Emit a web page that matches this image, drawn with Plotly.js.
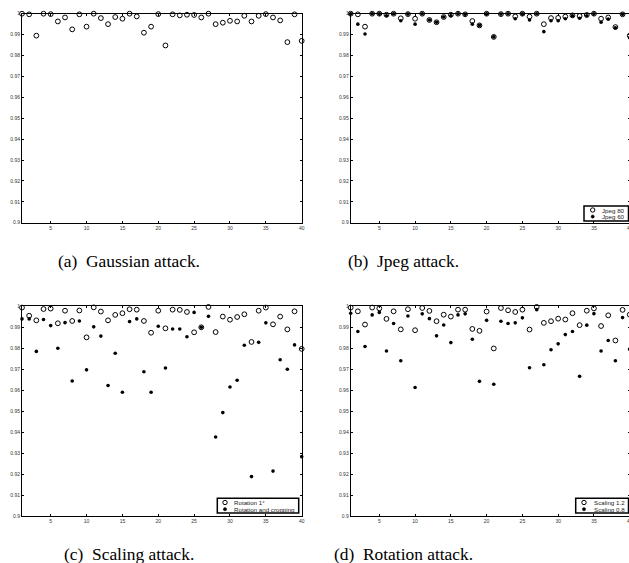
<!DOCTYPE html>
<html>
<head>
<meta charset="utf-8">
<script src="https://cdn.plot.ly/plotly-3.0.1.min.js"></script>
<style>
html,body{margin:0;padding:0;overflow:hidden;background:#fff;}
#chart{width:632px;height:563px;}
</style>
</head>
<body>
<div id="chart"></div>
<script>
// ---- data ----
var idx = [];
for (var i = 1; i <= 40; i++) idx.push(i);

var gaussian = [1.0,0.9997,0.9895,1.0,0.9998,0.9963,0.9982,0.9925,0.9997,0.9938,1.0,0.9979,0.995,0.9984,0.9976,1.0,0.9987,0.9909,0.9938,0.9998,0.9848,0.9997,0.9992,0.9995,0.9994,0.9982,1.0,0.995,0.9957,0.9966,0.9963,0.999,0.9963,0.999,0.9998,0.9982,0.9968,0.9864,0.9997,0.987];

var jpeg80 = [1,0.9997,0.9938,1,1,0.9995,1,0.9978,0.9998,0.9976,1,0.997,0.9959,0.9984,0.9995,1,0.9997,0.9965,0.9944,1,0.9889,0.9998,1,0.9987,1,0.9986,1,0.995,0.9979,0.998,0.9986,0.9992,0.9989,0.9994,1,0.9976,0.9982,0.9936,0.9997,0.9895];
var jpeg60 = [1,0.995,0.9903,1,1,0.999,1,0.9966,0.9998,0.995,1,0.997,0.9959,0.9984,0.999,1,0.9997,0.995,0.9944,1,0.9889,0.9998,1,0.9976,1,0.997,1,0.9914,0.9966,0.9966,0.9976,0.999,0.9978,0.999,1,0.9959,0.9974,0.9933,0.9997,0.9885];

var rotation1 = [0.9994,0.9955,0.9933,0.9987,0.9989,0.9919,0.9979,0.993,0.998,0.9852,0.9995,0.9975,0.9933,0.9959,0.9967,0.9986,0.9984,0.993,0.9874,0.9979,0.9895,0.9984,0.9983,0.9973,0.9876,0.99,0.9997,0.9877,0.9951,0.9936,0.9949,0.9962,0.983,0.9979,0.9994,0.9914,0.9951,0.989,0.9976,0.9797];
var rotationCrop = [0.994,0.994,0.9785,0.9937,0.9908,0.98,0.9922,0.9644,0.993,0.9697,0.9902,0.9858,0.9622,0.9776,0.959,0.9927,0.994,0.9688,0.959,0.9905,0.9706,0.9892,0.9892,0.9855,0.9971,0.99,0.9952,0.9377,0.9493,0.9615,0.9647,0.9814,0.9188,0.9828,0.9921,0.9214,0.9745,0.970,0.9816,0.9283];

var scaling12 = [0.9994,0.9976,0.9913,0.9994,0.999,0.994,0.9976,0.989,0.9986,0.9886,0.9992,0.9978,0.9929,0.996,0.9951,0.9984,0.9984,0.9892,0.9883,0.9975,0.9799,0.9992,0.9981,0.9973,0.9984,0.9889,0.9997,0.9921,0.9929,0.9941,0.9937,0.9967,0.991,0.9979,0.999,0.9906,0.9957,0.9837,0.9983,0.996];
var scaling08 = [0.9967,0.988,0.9808,0.9959,0.9971,0.9787,0.9918,0.974,0.9954,0.9613,0.9964,0.9941,0.9859,0.9911,0.9827,0.9959,0.9964,0.9843,0.9642,0.9933,0.9628,0.9929,0.9918,0.9921,0.9945,0.9707,0.9984,0.9721,0.9793,0.9821,0.9865,0.988,0.9666,0.991,0.9965,0.9787,0.9837,0.974,0.9946,0.9795];

var yTickVals = [0.9,0.91,0.92,0.93,0.94,0.95,0.96,0.97,0.98,0.99,1];
var yTickText = ['0.9','0.91','0.92','0.93','0.94','0.95','0.96','0.97','0.98','0.99','1'];
var xTickVals = [5,10,15,20,25,30,35,40];
var xTickText = ['5','10','15','20','25','30','35','40'];

var captions = ['(a)\u00a0 Gaussian attack.','(b)\u00a0 Jpeg attack.','(c)\u00a0 Scaling attack.','(d)\u00a0 Rotation attack.'];
var legendLabels = [['Jpeg 80','Jpeg 60'],['Rotation 1\u00b0','Rotation and cropping'],['Scaling 1.2','Scaling 0.8']];

// ---- layout helpers ----
var W = 632, H = 563;
function px(x){ return x / W; }
function py(y){ return 1 - y / H; }

function openTrace(y, xa, ya){
  return {x: idx, y: y, xaxis: xa, yaxis: ya, type:'scatter', mode:'markers', cliponaxis:false,
    showlegend:false, hoverinfo:'skip',
    marker:{symbol:'circle-open', size:4.8, color:'#000', line:{width:1, color:'#000'}}};
}
function filledTrace(y, xa, ya){
  return {x: idx, y: y, xaxis: xa, yaxis: ya, type:'scatter', mode:'markers', cliponaxis:false,
    showlegend:false, hoverinfo:'skip',
    marker:{symbol:'circle', size:3.6, color:'#000'}};
}

var data = [
  openTrace(gaussian,'x','y'),
  openTrace(jpeg80,'x2','y2'),
  filledTrace(jpeg60,'x2','y2'),
  openTrace(rotation1,'x3','y3'),
  filledTrace(rotationCrop,'x3','y3'),
  openTrace(scaling12,'x4','y4'),
  filledTrace(scaling08,'x4','y4')
];

var tickFont = {family:'Liberation Sans, Arial, sans-serif', size:5, color:'#333'};
function xAxis(dom, anchor){
  return {domain:dom, anchor:anchor, range:[1,40], tickvals:xTickVals, ticktext:xTickText,
    ticks:'inside', ticklen:2, tickwidth:1, tickcolor:'#000', showline:true, linecolor:'#000', linewidth:1,
    mirror:'ticks', showgrid:false, zeroline:false, tickfont:tickFont, fixedrange:true,
    ticklabeloverflow:'allow'};
}
function yAxis(dom, anchor){
  return {domain:dom, anchor:anchor, range:[0.9,1], tickvals:yTickVals, ticktext:yTickText,
    ticks:'inside', ticklen:2, tickwidth:1, tickcolor:'#000', showline:true, linecolor:'#000', linewidth:1,
    mirror:'ticks', showgrid:false, zeroline:false, tickfont:tickFont, fixedrange:true,
    ticklabeloverflow:'allow'};
}

var leftX = [px(22), px(301.7)];
var rightX = [px(350.7), px(629.7)];
var topY = [py(222.7), py(13.7)];
var botY = [py(516), py(306.3)];

// legend boxes: [x0,x1,y0,y1,markerX,textX,row1Y,row2Y]
var legendBoxes = [
  [584, 628.5, 206, 221, 592.7, 600, 210, 216.6],
  [217.3, 298.7, 498.3, 513, 225, 231.5, 502.5, 509.2],
  [575.7, 628.5, 498.3, 513, 584, 591.5, 502.5, 509.2]
];

var shapes = [];
var annotations = [];
legendBoxes.forEach(function(b, k){
  shapes.push({type:'rect', xref:'paper', yref:'paper', x0:px(b[0]), x1:px(b[1]), y0:py(b[3]), y1:py(b[2]),
    line:{color:'#000', width:1.5}, fillcolor:'#fff', layer:'above'});
  shapes.push({type:'circle', xref:'paper', yref:'paper', x0:px(b[4]-2.2), x1:px(b[4]+2.2), y0:py(b[6]+2.2), y1:py(b[6]-2.2),
    line:{color:'#000', width:1}, fillcolor:'rgba(0,0,0,0)', layer:'above'});
  shapes.push({type:'circle', xref:'paper', yref:'paper', x0:px(b[4]-1.6), x1:px(b[4]+1.6), y0:py(b[7]+1.6), y1:py(b[7]-1.6),
    line:{color:'#000', width:0.5}, fillcolor:'#000', layer:'above'});
  annotations.push({xref:'paper', yref:'paper', x:px(b[5]), y:py(b[6]), xanchor:'left', yanchor:'middle',
    text:legendLabels[k][0], showarrow:false, font:{family:'Liberation Sans, Arial, sans-serif', size:6.2, color:'#222'}});
  annotations.push({xref:'paper', yref:'paper', x:px(b[5]), y:py(b[7]), xanchor:'left', yanchor:'middle',
    text:legendLabels[k][1], showarrow:false, font:{family:'Liberation Sans, Arial, sans-serif', size:6.2, color:'#222'}});
});

var capPos = [[129, 260.5],[403, 260.5],[129, 553.5],[403, 553.5]];
captions.forEach(function(c, k){
  annotations.push({xref:'paper', yref:'paper', x:px(capPos[k][0]), y:py(capPos[k][1]), xanchor:'center', yanchor:'middle',
    text:c, showarrow:false, font:{family:'Liberation Serif, Times New Roman, serif', size:17.4, color:'#000'}});
});

var layout = {
  width: W, height: H,
  margin:{l:0, r:0, t:0, b:0, pad:0},
  paper_bgcolor:'#fff', plot_bgcolor:'#fff',
  showlegend:false,
  xaxis: xAxis(leftX,'y'),   yaxis: yAxis(topY,'x'),
  xaxis2: xAxis(rightX,'y2'), yaxis2: yAxis(topY,'x2'),
  xaxis3: xAxis(leftX,'y3'),  yaxis3: yAxis(botY,'x3'),
  xaxis4: xAxis(rightX,'y4'), yaxis4: yAxis(botY,'x4'),
  shapes: shapes,
  annotations: annotations
};

Plotly.newPlot('chart', data, layout, {staticPlot:true, displayModeBar:false});
</script>
</body>
</html>
